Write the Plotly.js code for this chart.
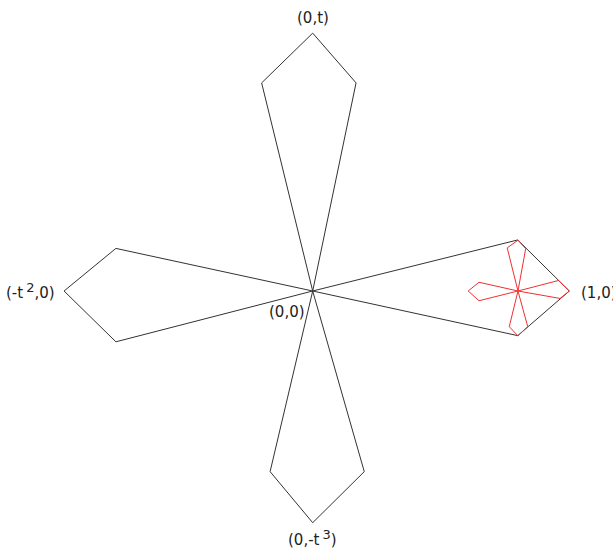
<!DOCTYPE html>
<html>
<head>
<meta charset="utf-8">
<script src="https://cdn.plot.ly/plotly-3.0.1.min.js"></script>
<style>html,body{margin:0;padding:0;background:#fff;}#chart{width:613px;height:550px;}</style>
</head>
<body>
<div id="chart"></div>
<script>
// Outer four-petal outline (closed path through the origin)
const outerX = [0, 0.799, 1, 0.799, 0, 0.201, 0, -0.166, 0, -0.767, -0.969, -0.767, 0, -0.199, 0, 0.169, 0];
const outerY = [0, 0.199, 0, -0.174, 0, -0.704, -0.903, -0.704, 0, -0.198, 0, 0.166, 0, 0.811, 1.005, 0.811, 0];

// Small red copy near (1,0)
const innerX = [0.8, 0.958, 1, 0.964, 0.8, 0.838, 0.8, 0.766, 0.8, 0.648, 0.606, 0.648, 0.8, 0.758, 0.8, 0.83, 0.8];
const innerY = [0, 0.041, 0, -0.029, 0, -0.139, -0.175, -0.139, 0, -0.038, 0, 0.034, 0, 0.168, 0.198, 0.165, 0];

// Point labels
const labelText = ["(0,t)", "(1,0)", "(-t\u2009<sup><span style='font-size:13px'>2</span></sup>,0)", "(0,-t\u2009<sup><span style='font-size:13px'>3</span></sup>)", "(0,0)"];
const labelX = [0, 1.036, -0.9965, 0, -0.1];
const labelY = [1.064, -0.008, 0, -0.962, -0.082];
const labelAnchor = ["center", "left", "right", "center", "center"];

const traces = [
  {x: outerX, y: outerY, mode: "lines", line: {color: "#333", width: 1}, hoverinfo: "skip"},
  {x: innerX, y: innerY, mode: "lines", line: {color: "#f03030", width: 1}, hoverinfo: "skip"}
];

const annotations = labelText.map((t, i) => ({
  x: labelX[i], y: labelY[i], xref: "x", yref: "y", text: t,
  showarrow: false, xanchor: labelAnchor[i], yanchor: "middle",
  font: {family: "DejaVu Sans, Verdana, sans-serif", size: 15, color: "#222"}
}));

const layout = {
  width: 613, height: 550,
  margin: {l: 0, r: 0, t: 0, b: 0},
  paper_bgcolor: "#fff", plot_bgcolor: "#fff",
  showlegend: false,
  xaxis: {range: [-1.2186, 1.1703], visible: false, fixedrange: true},
  yaxis: {range: [-1.0094, 1.1341], visible: false, fixedrange: true},
  annotations: annotations
};

Plotly.newPlot("chart", traces, layout, {displayModeBar: false, staticPlot: true});
</script>
</body>
</html>
